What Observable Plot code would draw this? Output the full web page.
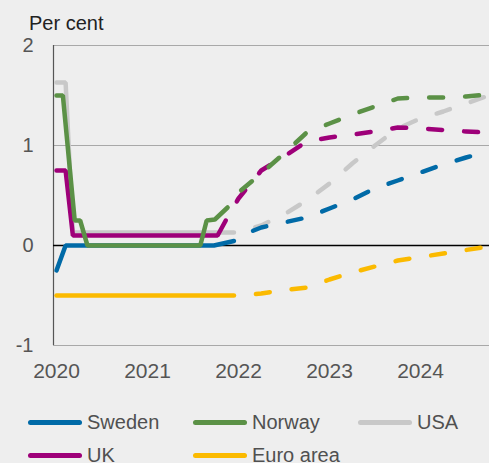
<!DOCTYPE html>
<html>
<head>
<meta charset="utf-8">
<script src="https://cdn.jsdelivr.net/npm/d3@7"></script>
<script src="https://cdn.jsdelivr.net/npm/@observablehq/plot@0.6"></script>
<style>
  html, body { margin: 0; padding: 0; background: #eeeeee; overflow: hidden; }
  body { width: 489px; height: 463px; position: relative; font-family: "Liberation Sans", Arial, sans-serif; }
  #chart { position: absolute; left: 0; top: 0; }
  #title { position: absolute; left: 29px; top: 13px; font-size: 20px; line-height: 20px; color: #222222; }
  #legend { position: absolute; left: 0; top: 0; width: 489px; height: 463px; pointer-events: none; }
  .item { position: absolute; display: flex; align-items: center; height: 30px; font-size: 20px; color: #505050; }
  .sw { width: 54px; height: 5px; border-radius: 3px; margin-right: 5px; }
</style>
</head>
<body>
<div id="chart"></div>
<div id="title">Per cent</div>
<div id="legend"></div>
<script>
// ---- data ----
const countries = ["Sweden", "Norway", "USA", "UK", "Euro area"];
const colors = ["#006AA7", "#5B9146", "#C8C8C8", "#9E0079", "#FBBA00"];
const drawOrder = ["USA", "Sweden", "UK", "Norway", "Euro area"];

const xTicks = [2020, 2021, 2022, 2023, 2024];
const yTicks = [-1, 0, 1, 2];

// outcomes (solid)
const swedenHistT = [2020.0, 2020.1, 2021.73, 2021.95];
const swedenHistV = [-0.25, 0, 0, 0.045];
const norwayHistT = [2020.0, 2020.07, 2020.2, 2020.26, 2020.34, 2021.58, 2021.65, 2021.74, 2021.88];
const norwayHistV = [1.5, 1.5, 0.25, 0.25, 0, 0, 0.25, 0.26, 0.38];
const usaHistT = [2020.0, 2020.1, 2020.18, 2021.95];
const usaHistV = [1.63, 1.63, 0.13, 0.13];
const ukHistT = [2020.0, 2020.1, 2020.18, 2021.77, 2021.86];
const ukHistV = [0.75, 0.75, 0.1, 0.1, 0.25];
const euroHistT = [2020.0, 2021.95];
const euroHistV = [-0.5, -0.5];

// forecasts (dashed), quarterly
const quarters = [2022, 2022.25, 2022.5, 2022.75, 2023, 2023.25, 2023.5, 2023.75, 2024, 2024.25, 2024.5, 2024.75];
const swedenFcst = [0.09, 0.18, 0.23, 0.28, 0.37, 0.46, 0.57, 0.65, 0.73, 0.81, 0.88, 0.94];
const norwayFcst = [0.53, 0.72, 0.92, 1.13, 1.22, 1.31, 1.39, 1.47, 1.48, 1.48, 1.49, 1.51];
const usaFcst = [0.14, 0.2, 0.31, 0.45, 0.62, 0.82, 1.0, 1.17, 1.27, 1.34, 1.42, 1.5];
const ukFcst = [0.47, 0.75, 0.89, 1.04, 1.08, 1.11, 1.14, 1.18, 1.17, 1.155, 1.14, 1.13];
const euroFcst = [-0.5, -0.48, -0.445, -0.42, -0.34, -0.27, -0.21, -0.15, -0.115, -0.08, -0.045, -0.01];

// ---- build tables ----
const histT = {"Sweden": swedenHistT, "Norway": norwayHistT, "USA": usaHistT, "UK": ukHistT, "Euro area": euroHistT};
const histV = {"Sweden": swedenHistV, "Norway": norwayHistV, "USA": usaHistV, "UK": ukHistV, "Euro area": euroHistV};
const fcstV = {"Sweden": swedenFcst, "Norway": norwayFcst, "USA": usaFcst, "UK": ukFcst, "Euro area": euroFcst};

function histRows(c) { return histT[c].map((t, i) => ({country: c, t, v: histV[c][i]})); }
function fcstRows(c) {
  const T = histT[c], V = histV[c];
  const start = {country: c, t: T[T.length - 1], v: V[V.length - 1]};
  return [start, ...quarters.map((t, i) => ({country: c, t, v: fcstV[c][i]}))];
}
const colorOf = c => colors[countries.indexOf(c)];

const W = 489, H = 392;
const marks = [
  Plot.ruleY([2, 1, -1], {stroke: "#a8a8a8", strokeWidth: 1.2}),
  Plot.ruleX([2019.967], {stroke: "#555555", strokeWidth: 1.2}),
  Plot.ruleY([0], {stroke: "#000000", strokeWidth: 1.5})
];
for (const c of drawOrder) {
  marks.push(Plot.line(fcstRows(c), {x: "t", y: "v", stroke: colorOf(c), strokeWidth: 4.5,
    strokeLinecap: "round", strokeDasharray: "14,22", strokeDashoffset: 14}));
  marks.push(Plot.line(histRows(c), {x: "t", y: "v", stroke: colorOf(c), strokeWidth: 4.5,
    strokeLinecap: "round", strokeLinejoin: "miter"}));
}

const chart = Plot.plot({
  width: W, height: H,
  marginLeft: 53, marginRight: 0, marginTop: 45, marginBottom: H - 345,
  style: {background: "transparent", fontFamily: "Liberation Sans, Arial, sans-serif", overflow: "visible"},
  x: {domain: [2019.967, 2024.758], ticks: xTicks, tickFormat: d => String(d), tickSize: 0,
      tickPadding: 18, label: null},
  y: {domain: [-1, 2], ticks: yTicks, tickFormat: d => String(d), tickSize: 0, tickPadding: 20, label: null},
  marks: [
    ...marks,
    Plot.axisX({ticks: xTicks, tickFormat: d => String(d), tickSize: 0, tickPadding: 18, fontSize: 21, color: "#555555", label: null}),
    Plot.axisY({ticks: yTicks, tickFormat: d => String(d), tickSize: 0, tickPadding: 20, fontSize: 20, color: "#555555", label: null})
  ]
});
document.getElementById("chart").appendChild(chart);

// ---- legend ----
const legendPos = [[0, 0], [1, 0], [2, 0], [0, 1], [1, 1]];
const legend = document.getElementById("legend");
countries.forEach((c, i) => {
  const [col, row] = legendPos[i];
  const el = document.createElement("div");
  el.className = "item";
  el.style.left = (28 + col * 165) + "px";
  el.style.top = (422 + row * 33 - 15) + "px";
  el.innerHTML = `<span class="sw" style="background:${colors[i]}"></span><span>${c}</span>`;
  legend.appendChild(el);
});
</script>
</body>
</html>
